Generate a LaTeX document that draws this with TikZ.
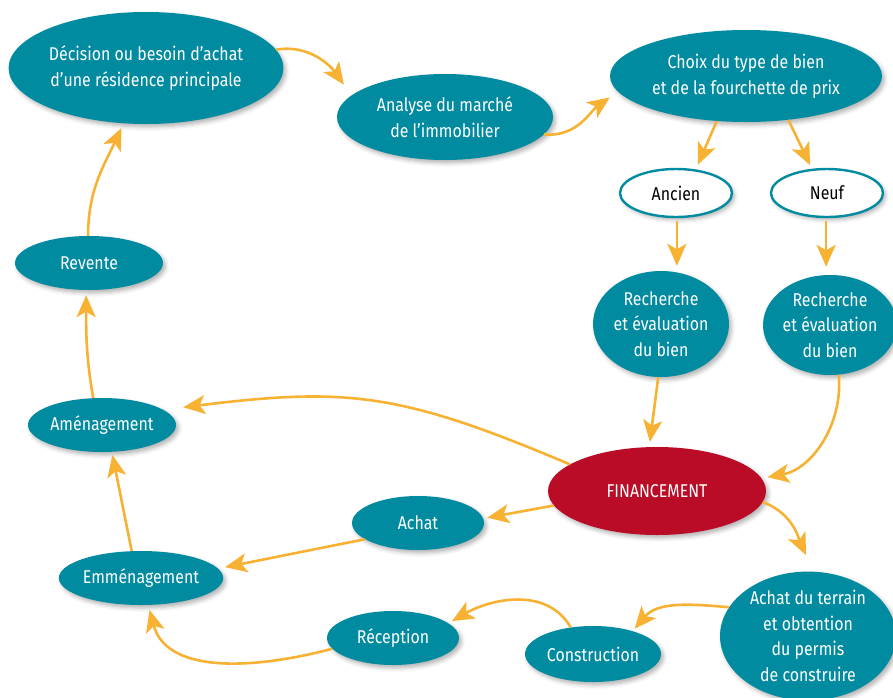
\documentclass[tikz,border=0pt]{standalone}
\usepackage{fontspec}
\setmainfont{Fira Sans}[FakeStretch=0.86]
\usetikzlibrary{shapes.geometric,arrows.meta,shadows.blur}
\definecolor{tealc}{RGB}{0,139,160}
\definecolor{redc}{RGB}{186,12,38}
\definecolor{orangec}{RGB}{247,178,52}
\begin{document}
\begin{tikzpicture}[x=1pt,y=-1pt,
  base/.style={ellipse, inner sep=0pt, align=center,
    font=\fontsize{18.5}{25.5}\selectfont,
    blur shadow={shadow xshift=2.5pt, shadow yshift=-3pt, shadow blur radius=4pt, shadow opacity=30}},
  tnode/.style={base, fill=tealc, text=white},
  rnode/.style={base, fill=redc, text=white},
  wnode/.style={base, fill=white, draw=tealc, line width=2.4pt, text=black},
  arr/.style={draw=orangec, line width=2.6pt,
    -{Stealth[length=22pt,width=19pt,inset=5.5pt]}}
]
\useasboundingbox (0,0) rectangle (893,697);
\clip (0,0) rectangle (893,697);

\node[tnode, minimum width=272pt, minimum height=112pt] (dec) at (146,68) {Décision ou besoin d’achat\\d’une résidence principale};
\node[tnode, minimum width=216pt, minimum height=86pt] (ana) at (445,117) {Analyse du marché\\de l’immobilier};
\node[tnode, minimum width=272pt, minimum height=92pt] (cho) at (746,76) {Choix du type de bien\\et de la fourchette de prix};
\node[wnode, minimum width=112pt, minimum height=48pt] (anc) at (676,193) {Ancien};
\node[wnode, minimum width=112pt, minimum height=48pt] (neu) at (827,193) {Neuf};
\node[tnode, minimum width=136pt, minimum height=106pt] (r1) at (661,324) {Recherche\\et évaluation\\du bien};
\node[tnode, minimum width=130pt, minimum height=100pt] (r2) at (830,325) {Recherche\\et évaluation\\du bien};
\node[rnode, minimum width=218pt, minimum height=88pt] (fin) at (657,491) {FINANCEMENT};
\node[tnode, minimum width=176pt, minimum height=126pt] (ter) at (808,636) {Achat du terrain\\et obtention\\du permis\\de construire};
\node[tnode, minimum width=136pt, minimum height=56pt] (con) at (593,654) {Construction};
\node[tnode, minimum width=132pt, minimum height=54pt] (rec) at (393,638) {Réception};
\node[tnode, minimum width=148pt, minimum height=54pt] (emm) at (141,578) {Emménagement};
\node[tnode, minimum width=132pt, minimum height=54pt] (ach) at (418,523) {Achat};
\node[tnode, minimum width=148pt, minimum height=54pt] (ame) at (102,425) {Aménagement};
\node[tnode, minimum width=148pt, minimum height=54pt] (rev) at (89,263) {Revente};

\draw[arr, shorten >=13pt] (dec.8) to[out=10,in=125] (ana.167);
\draw[arr, shorten >=10pt] (ana.-10) to[out=-5,in=215] (cho.187);
\draw[arr, shorten >=5pt] (cho.-123) -- (anc.50);
\draw[arr, shorten >=4pt] (cho.-46) -- (neu.122);
\draw[arr, shorten >=5pt, shorten <=3pt] (anc.-88) -- (anc.-88 |- r1.north);
\draw[arr, shorten >=8pt, shorten <=3pt] (neu.-92) -- (neu.-92 |- r2.north);
\draw[arr, shorten >=5pt] (r1.-93) -- (fin.100);
\draw[arr, shorten >=6pt] (r2.-80) to[out=-85,in=10] (fin.7);
\draw[arr, shorten >=18pt] (fin.-6) to[out=-20,in=115] (ter.85);
\draw[arr, shorten >=20pt] (fin.163) to[out=157,in=7,looseness=1.15] (ame.14);
\draw[arr, shorten >=4pt] (fin.188) -- (ach.4);
\draw[arr, shorten >=7pt] (ach.197) -- (emm.7);
\draw[arr, shorten >=3pt] (emm.109) -- (ame.-70);
\draw[arr, shorten >=5pt] (ame.108) to[out=100,in=-90] (rev.-96);
\draw[arr, shorten >=5pt] (rev.92) to[out=90,in=-115] (dec.248);
\draw[arr, shorten >=3pt] (ter.160) to[out=175,in=50] (con.30);
\draw[arr, shorten >=4pt] (con.130) to[out=120,in=30] (rec.15);
\draw[arr, shorten >=5pt] (rec.190) to[out=195,in=-75] (emm.-75);
\end{tikzpicture}
\end{document}
